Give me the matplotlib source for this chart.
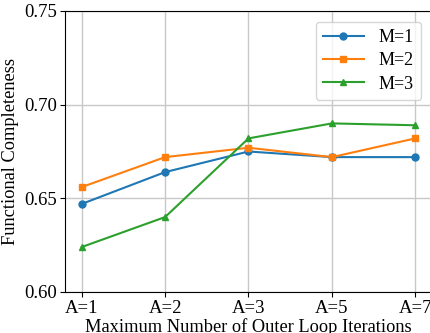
import matplotlib
matplotlib.use("Agg")
import matplotlib.pyplot as plt

# values
iterations = ["A=1", "A=2", "A=3", "A=5", "A=7"]
m1 = [0.647, 0.664, 0.675, 0.672, 0.672]
m2 = [0.656, 0.672, 0.677, 0.672, 0.682]
m3 = [0.624, 0.640, 0.682, 0.690, 0.689]
y_ticks = [0.60, 0.65, 0.70, 0.75]

plt.rcParams['font.family'] = ['Liberation Serif', 'DejaVu Serif']
plt.rcParams['mathtext.fontset'] = 'stix'

fig = plt.figure(figsize=(4.31, 3.33), dpi=100)
ax = fig.add_axes([65 / 431, 41 / 333, 367 / 431, 281 / 333])

x = list(range(len(iterations)))
ax.plot(x, m1, marker='o', markersize=5, label='M=1', color='#1f77b4')
ax.plot(x, m2, marker='s', markersize=5, label='M=2', color='#ff7f0e')
ax.plot(x, m3, marker='^', markersize=5, label='M=3', color='#2ca02c')

ax.set_xticks(x)
ax.set_xticklabels(iterations, fontsize=13.5)
ax.set_yticks(y_ticks)
ax.set_yticklabels(['%.2f' % v for v in y_ticks], fontsize=13.5)
ax.set_ylim(0.60, 0.75)
ax.set_xlabel('Maximum Number of Outer Loop Iterations', fontsize=13.2, labelpad=1)
ax.set_ylabel('Functional Completeness', fontsize=13.2)
ax.grid(True, color='#c8c8c8', linewidth=1)
ax.set_axisbelow(True)
ax.tick_params(axis='both', pad=2)
ax.legend(loc='upper right', fontsize=13, handlelength=2.3, labelspacing=0.35,
          borderaxespad=0.6)

fig.savefig('out.png', dpi=100)
